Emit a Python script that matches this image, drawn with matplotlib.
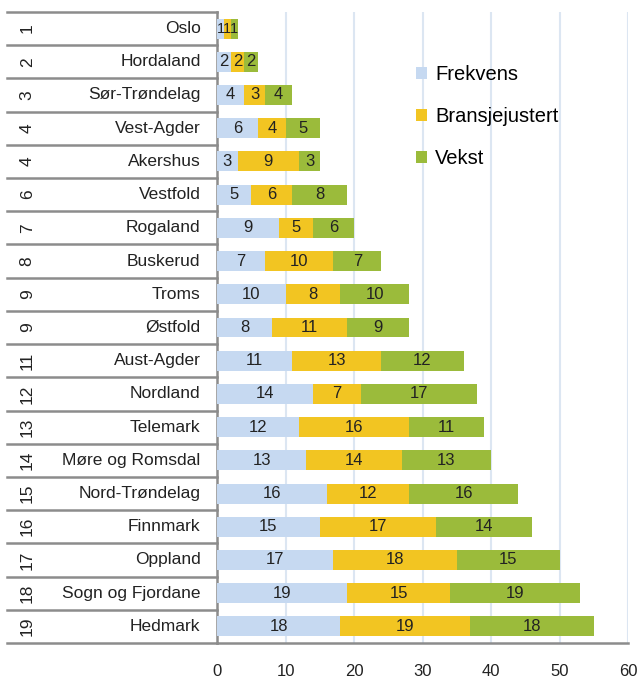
import matplotlib.pyplot as plt
import matplotlib.transforms as mtransforms
import numpy as np

counties = ["Oslo", "Hordaland", "Sør-Trøndelag", "Vest-Agder", "Akershus",
            "Vestfold", "Rogaland", "Buskerud", "Troms", "Østfold",
            "Aust-Agder", "Nordland", "Telemark", "Møre og Romsdal",
            "Nord-Trøndelag", "Finnmark", "Oppland", "Sogn og Fjordane",
            "Hedmark"]
ranks = ["1", "2", "3", "4", "4", "6", "7", "8", "9", "9", "11", "12", "13",
         "14", "15", "16", "17", "18", "19"]
frekvens = [1, 2, 4, 6, 3, 5, 9, 7, 10, 8, 11, 14, 12, 13, 16, 15, 17, 19, 18]
bransje = [1, 2, 3, 4, 9, 6, 5, 10, 8, 11, 13, 7, 16, 14, 12, 17, 18, 15, 19]
vekst = [1, 2, 4, 5, 3, 8, 6, 7, 10, 9, 12, 17, 11, 13, 16, 14, 15, 19, 18]

series = [("Frekvens", frekvens, "#c6d9f1"),
          ("Bransjejustert", bransje, "#f2c522"),
          ("Vekst", vekst, "#9bbb3b")]

plt.rcParams["font.family"] = ["Liberation Sans", "DejaVu Sans"]

fig = plt.figure(figsize=(6.43, 6.80), dpi=100)
ax = fig.add_axes([0.3375, 0.0544, 0.6392, 0.928])

y = np.arange(len(counties))
left = np.zeros(len(counties))
for name, vals, color in series:
    vals = np.array(vals)
    bars = ax.barh(y, vals, left=left, height=0.6, color=color, label=name,
                   zorder=3)
    # Oslo's segments are tiny, keep those labels a bit smaller
    texts = ax.bar_label(bars, labels=[str(v) for v in vals],
                         label_type="center", fontsize=12, color="#222222")
    texts[0].set_fontsize(10.5)
    left = left + vals

ax.set_xlim(0, 60)
ax.set_ylim(len(counties) - 0.5, -0.5)
ax.set_xticks(range(0, 61, 10))
ax.set_yticks([])
ax.tick_params(axis="x", length=0, pad=15, labelsize=12, colors="#222222")
ax.grid(axis="x", color="#dce6f2", lw=1.5, zorder=0)
for s in ["top", "right"]:
    ax.spines[s].set_visible(False)
ax.spines["left"].set_color("#8c8c8c")
ax.spines["left"].set_linewidth(1.8)
ax.spines["bottom"].set_color("#8c8c8c")
ax.spines["bottom"].set_linewidth(1.8)

# table on the left: ranks and county names with row lines
trans = mtransforms.blended_transform_factory(ax.transAxes, ax.transData)
x0 = -0.511
for i in range(len(counties) + 1):
    ax.plot([x0, 0], [i - 0.5, i - 0.5], transform=trans, color="#8c8c8c",
            lw=1.8, clip_on=False, zorder=4)
for i, (r, c) in enumerate(zip(ranks, counties)):
    ax.text(-0.462, i, r, transform=trans, rotation=90, ha="center",
            va="center", fontsize=12.5, color="#222222")
    ax.text(-0.04, i, c, transform=trans, ha="right", va="center",
            fontsize=12.5, color="#222222")

ax.legend(loc="upper left", bbox_to_anchor=(0.44, 0.945), frameon=False,
          fontsize=14.5, handlelength=0.55, handleheight=0.55,
          handletextpad=0.4, labelspacing=1.15)

fig.savefig("out.png", dpi=100)
